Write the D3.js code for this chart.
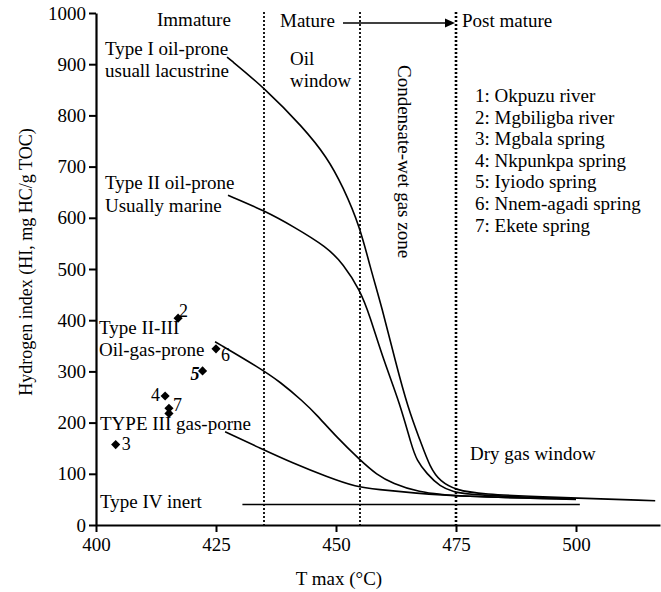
<!DOCTYPE html>
<html>
<head>
<meta charset="utf-8">
<script src="https://cdn.jsdelivr.net/npm/d3@7"></script>
<style>
  body { margin: 0; background: #fff; }
  svg text { font-family: "Liberation Serif", "Times New Roman", serif; fill: #000; }
</style>
</head>
<body>
<div id="chart"></div>
<script>
// kerogen type curves, [Tmax (°C), HI]
const typeICurve = [[427.3, 914], [435.2, 853], [443.1, 777], [448.1, 719], [451.5, 660], [455, 582],
    [457.1, 504], [459.6, 424], [462.3, 322], [465.1, 225], [467.5, 166], [469.6, 112], [471.7, 85],
    [475.1, 68], [480, 60.5], [495, 54], [516.5, 47.5]];
const typeIICurve = [[427.5, 644], [435.3, 613], [441.1, 583], [448.1, 543], [451.5, 510], [455, 459],
    [457, 410], [459.9, 322], [463.3, 238], [465.8, 153], [466.8, 127], [468.9, 100], [471.7, 75],
    [474.4, 65], [477.9, 58.6], [500, 50.8]];
const typeIIIIICurve = [[424.8, 358], [434.2, 306], [438.3, 280], [443.2, 241], [446, 215], [450.1, 172],
    [455, 127], [458.5, 98], [461.9, 81], [466.8, 65], [475.1, 55.3], [500, 50]];
const typeIIICurve = [[426.9, 182], [434.2, 150], [441.1, 120.5], [448.1, 94.3], [454.3, 74], [458.5, 69.7],
    [466.8, 62], [475.1, 56], [500, 50.8]];
const typeIVCurve = [[430.5, 40], [500.8, 40]];

// samples
const sampleTmax = [417.1, 425, 422.2, 414.4, 415.2, 415.2, 404.1];
const sampleHI = [404, 344, 301, 252, 228, 218, 157];
const sampleLabel = ["2", "6", "5", "4", "7", "", "3"];

const legendItems = ["1: Okpuzu river", "2: Mgbiligba river", "3: Mgbala spring", "4: Nkpunkpa spring",
    "5: Iyiodo spring", "6: Nnem-agadi spring", "7: Ekete spring"];

const xTicks = [400, 425, 450, 475, 500];
const yTicks = [0, 100, 200, 300, 400, 500, 600, 700, 800, 900, 1000];
const zoneBounds = [435, 455, 475];

const width = 661, height = 592;
const fontSize = "19px";

const svg = d3.select("#chart").append("svg")
    .attr("width", width)
    .attr("height", height);

const x = d3.scaleLinear().domain([400, 517.5]).range([96, 660]);
const y = d3.scaleLinear().domain([0, 1000]).range([525, 13]);

// axes
const xAxis = svg.append("g")
    .attr("transform", "translate(0," + y(0) + ")")
    .call(d3.axisBottom(x).tickValues(xTicks).tickSize(7).tickSizeOuter(0).tickPadding(6));
const yAxis = svg.append("g")
    .attr("transform", "translate(" + x(400) + ",0)")
    .call(d3.axisLeft(y).tickValues(yTicks).tickFormat(d3.format("d"))
        .tickSize(7).tickSizeOuter(0).tickPadding(3));

[xAxis, yAxis].forEach(function (g) {
    g.select(".domain").attr("stroke-width", 2.2);
    g.selectAll(".tick line").attr("stroke-width", 2);
    g.selectAll(".tick text")
        .style("font-family", "'Liberation Serif', 'Times New Roman', serif")
        .style("font-size", fontSize);
});

svg.append("text")
    .attr("x", 339)
    .attr("y", 585)
    .attr("text-anchor", "middle")
    .style("font-size", fontSize)
    .text("T max (°C)");

svg.append("text")
    .attr("transform", "translate(32,262) rotate(-90)")
    .attr("text-anchor", "middle")
    .style("font-size", "18px")
    .text("Hydrogen index (HI, mg HC/g TOC)");

// maturity boundaries
svg.selectAll(".zone")
    .data(zoneBounds)
    .enter()
    .append("line")
    .attr("x1", function (d) { return x(d); })
    .attr("x2", function (d) { return x(d); })
    .attr("y1", 12)
    .attr("y2", y(0))
    .attr("stroke", "#000")
    .attr("stroke-width", function (d, i) { return i === 2 ? 2.6 : 1.8; })
    .attr("stroke-dasharray", "2,2");

// curves
const line = d3.line()
    .x(function (d) { return x(d[0]); })
    .y(function (d) { return y(d[1]); })
    .curve(d3.curveBasis);

[typeICurve, typeIICurve, typeIIIIICurve, typeIIICurve, typeIVCurve].forEach(function (c) {
    svg.append("path")
        .datum(c)
        .attr("d", line)
        .attr("fill", "none")
        .attr("stroke", "#000")
        .attr("stroke-width", 1.6);
});

// samples
const diamond = d3.symbol().type(d3.symbolSquare).size(42);
sampleTmax.forEach(function (t, i) {
    svg.append("path")
        .attr("d", diamond)
        .attr("transform", "translate(" + x(t) + "," + y(sampleHI[i]) + ") rotate(45)")
        .attr("fill", "#000");
});

const labelOffset = {
    "2": [1, -1, "start"],
    "6": [5, 12, "start"],
    "5": [-3, 9, "end"],
    "4": [-5, 5, "end"],
    "7": [4, 3, "start"],
    "3": [6, 5, "start"]
};
sampleLabel.forEach(function (lab, i) {
    if (!lab) return;
    const o = labelOffset[lab];
    svg.append("text")
        .attr("x", x(sampleTmax[i]) + o[0])
        .attr("y", y(sampleHI[i]) + o[1])
        .attr("text-anchor", o[2])
        .style("font-size", "18px")
        .style("font-weight", lab === "5" ? "bold" : "normal")
        .style("font-style", lab === "5" ? "italic" : "normal")
        .text(lab);
});

// annotations
function note(tx, px, py) {
    svg.append("text")
        .attr("x", px)
        .attr("y", py)
        .style("font-size", fontSize)
        .text(tx);
}
note("Immature", 157, 26);
note("Mature", 280, 27);
note("Post mature", 462, 27);
note("Oil", 290, 65);
note("window", 290, 87);
note("Type I oil-prone", 105, 55);
note("usuall lacustrine", 105, 77);
note("Type II oil-prone", 105, 189);
note("Usually marine", 105, 212);
note("Type II-III", 99, 334);
note("Oil-gas-prone", 99, 356);
note("TYPE III gas-porne", 100, 430);
note("Type IV inert", 100, 508);
note("Dry gas window", 470, 460);

svg.append("text")
    .attr("transform", "translate(398,65) rotate(90)")
    .style("font-size", fontSize)
    .text("Condensate-wet gas zone");

// arrow mature -> post mature
svg.append("line")
    .attr("x1", 343)
    .attr("x2", x(475) - 8)
    .attr("y1", 23)
    .attr("y2", 23)
    .attr("stroke", "#000")
    .attr("stroke-width", 1.6);
svg.append("path")
    .attr("d", "M" + (x(475) - 1) + ",23 l-10,-4.5 l0,9 z")
    .attr("fill", "#000");

// legend
svg.selectAll(".legend")
    .data(legendItems)
    .enter()
    .append("text")
    .attr("x", 475)
    .attr("y", function (d, i) { return 102 + i * 21.6; })
    .style("font-size", fontSize)
    .text(function (d) { return d; });
</script>
</body>
</html>
